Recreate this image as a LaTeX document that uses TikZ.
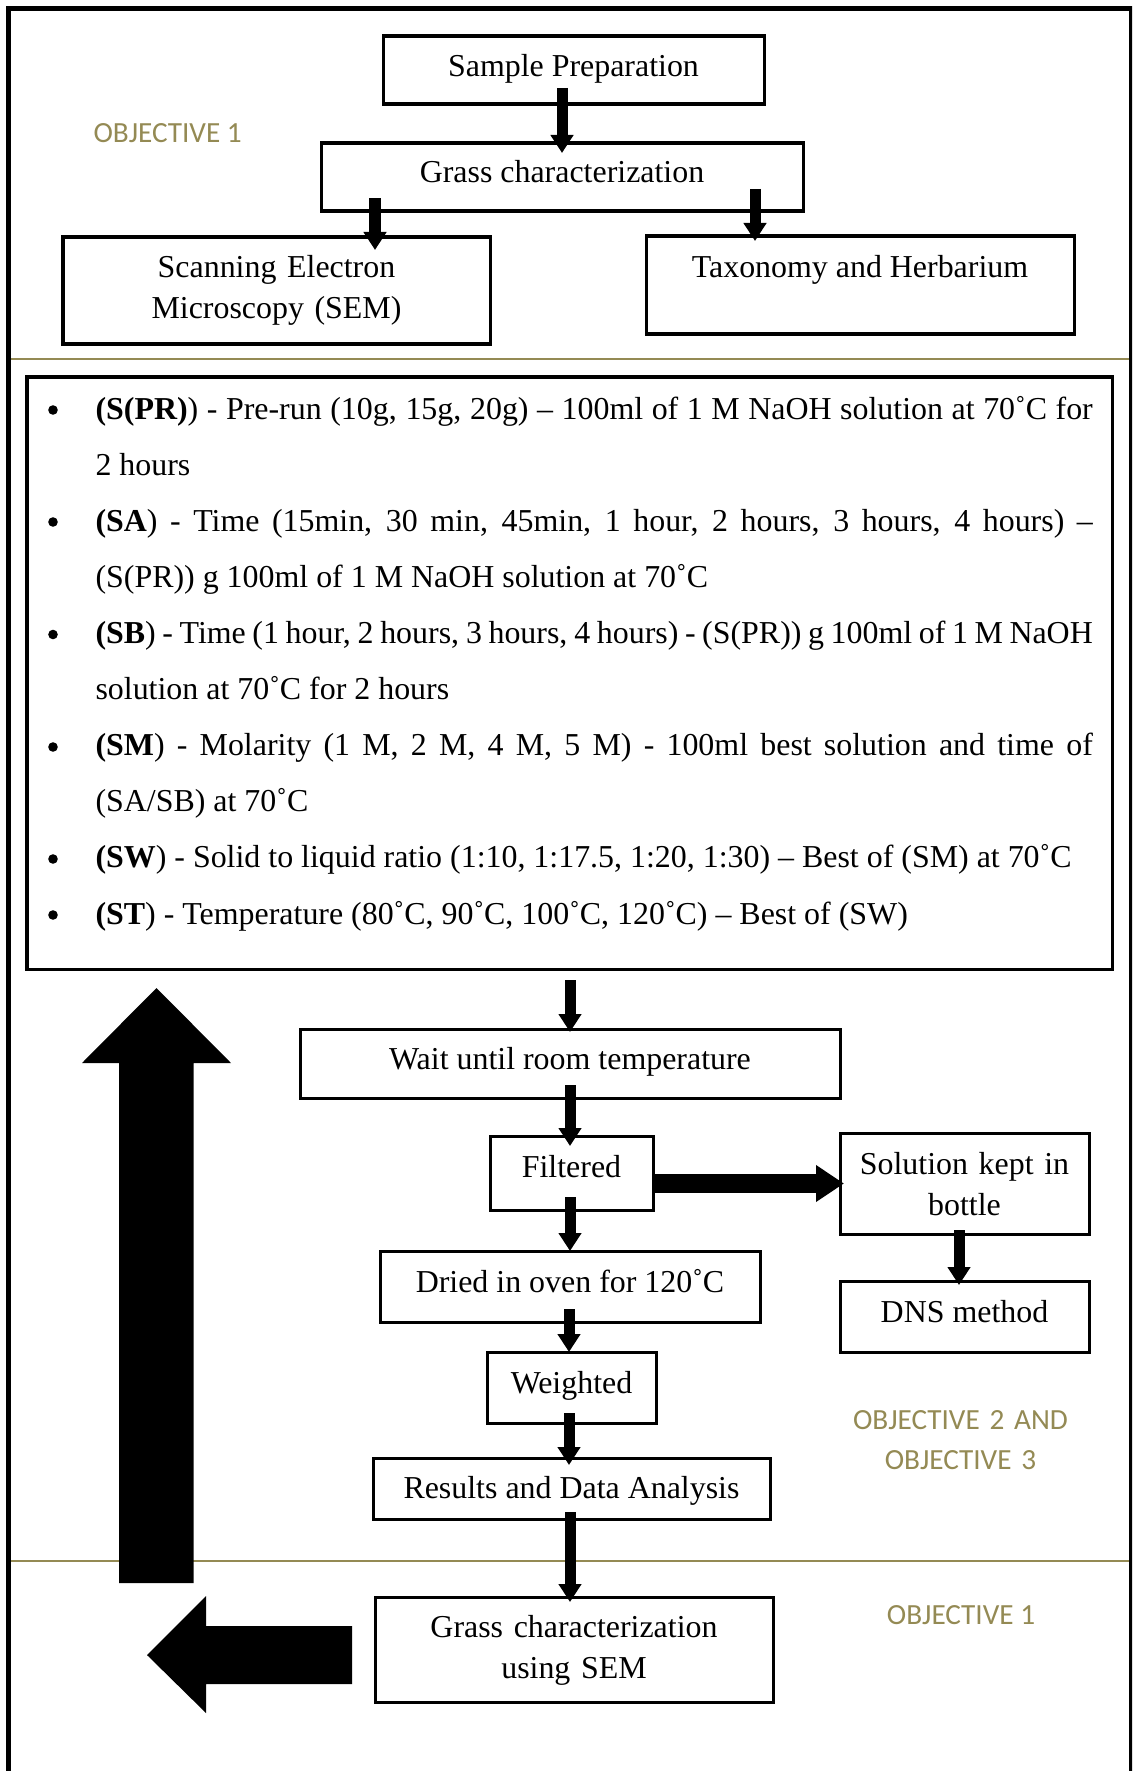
\documentclass[tikz,border=0pt]{standalone}
\usepackage{fontspec}
\setmainfont{Liberation Serif}
\newfontfamily\objfont{Carlito}
\usetikzlibrary{arrows.meta,calc,fit}
\definecolor{objcol}{HTML}{948A54}
\newcommand\tm{\fontsize{12}{15.7}\selectfont}
\newcommand\objf{\objfont\fontsize{11}{15.4}\selectfont}
\newcommand\jline[1]{\hbox to 375pt{#1}}
\newcommand\lastline[1]{\hbox to 375pt{#1\hfil}}
\begin{document}
\begin{tikzpicture}[x=0.376pt,y=-0.376pt,
  box/.style={draw,line width=1.13pt,inner sep=0pt,outer sep=0pt},
  txt/.style={font=\tm,inner sep=0pt,anchor=base},
  txt2/.style={font=\tm,inner sep=0pt,anchor=base,align=center,text width=#1},
  arr/.style={line width=4.14pt,-{Triangle[length=6.77pt,width=8.27pt]}},
  bigarr/.style={line width=7.14pt,-{Triangle[length=10.53pt,width=13.16pt]}},
  obj/.style={font=\objf,text=objcol,inner sep=0pt,anchor=base},
  bulletdot/.style={fill=black}]
\useasboundingbox (0,0) rectangle (1132,1771);
\clip (0,0) rectangle (1132,1771);
% section separators
\draw[objcol,line width=0.8pt] (8,359) -- (1132,359);
\draw[objcol,line width=0.8pt] (8,1561) -- (1132,1561);
% outer frame
\draw[line width=1.88pt] (8.5,1800) -- (8.5,8.5) -- (1131,8.5) -- (1131,1800);

% objective labels
\node[obj,anchor=base west] (obj1) at (93,143) {OBJECTIVE 1};
\node[obj,align=center,text width=110pt] (obj23) at (960.5,1429) {OBJECTIVE 2 AND\\OBJECTIVE 3};
\node[obj] (obj1b) at (961,1624) {OBJECTIVE 1};

% boxes
\node[box,fit={(383,36) (764,104)}] (bsp) {};
\node[box,fit={(321,143) (803,211)}] (bgc) {};
\node[box,fit={(63,237) (490,344)}] (bsem) {};
\node[box,fit={(646,236) (1074,334)}] (btax) {};
\node[box,fit={(27,377) (1112,969)}] (blist) {};
\node[box,fit={(300,1029) (840,1098)}] (bwait) {};
\node[box,fit={(490,1136) (653,1210)}] (bfilt) {};
\node[box,fit={(840,1133) (1089,1234)}] (bsol) {};
\node[box,fit={(380,1251) (760,1322)}] (bdry) {};
\node[box,fit={(840,1281) (1089,1352)}] (bdns) {};
\node[box,fit={(487,1352) (656,1423)}] (bwei) {};
\node[box,fit={(373,1458) (770,1519)}] (bres) {};
\node[box,fit={(375,1597) (773,1702)}] (bgc2) {};

% box texts
\node[txt] (tsp) at (573.5,77) {Sample Preparation};
\node[txt] (tgc) at (562,183) {Grass characterization};
\node[txt2=150pt] (tsem) at (276.5,277) {Scanning Electron\\Microscopy (SEM)};
\node[txt] (ttax) at (860,277) {Taxonomy and Herbarium};
\node[txt] (twait) at (570,1069) {Wait until room temperature};
\node[txt] (tfilt) at (571.5,1177) {Filtered};
\node[txt2=90pt,font=\fontsize{12}{15.5}\selectfont] (tsol) at (964.5,1174) {Solution kept in\\bottle};
\node[txt] (tdry) at (570,1292) {Dried in oven for 120˚C};
\node[txt] (tdns) at (964.5,1322) {DNS method};
\node[txt] (twei) at (571.5,1393) {Weighted};
\node[txt] (tres) at (571.5,1498) {Results and Data Analysis};
\node[txt2=140pt,font=\fontsize{12}{15.5}\selectfont] (tgc2) at (574,1637) {Grass characterization\\using SEM};

% bullet list
\node[font=\tm,inner sep=0pt,anchor=base west] (tlist) at (95,419) {\vtop{\baselineskip=21.1pt
\jline{\textbf{(S(PR)}) - Pre-run (10g, 15g, 20g) – 100ml of 1 M NaOH solution at 70˚C for}
\lastline{2 hours}
\jline{\textbf{(SA}) - Time (15min, 30 min, 45min, 1 hour, 2 hours, 3 hours, 4 hours) –}
\lastline{(S(PR)) g 100ml of 1 M NaOH solution at 70˚C}
\jline{\textbf{(SB}) - Time (1 hour, 2 hours, 3 hours, 4 hours) - (S(PR)) g 100ml of 1 M NaOH}
\lastline{solution at 70˚C for 2 hours}
\jline{\textbf{(SM}) - Molarity (1 M, 2 M, 4 M, 5 M) - 100ml best solution and time of}
\lastline{(SA/SB) at 70˚C}
\lastline{\textbf{(SW}) - Solid to liquid ratio (1:10, 1:17.5, 1:20, 1:30) – Best of (SM) at 70˚C}
\lastline{\textbf{(ST}) - Temperature (80˚C, 90˚C, 100˚C, 120˚C) – Best of (SW)}
}};
% bullets
\foreach \by in {410,522,634.5,747,859,915}
  \fill[bulletdot] (53,\by) circle (4.8);

% connectors
\draw[arr] ($(bsp.south -| bgc.north)+(0,-16)$) -- ($(bgc.north)+(0,10)$);
\draw[arr] ($(bgc.south west)+(54,-13)$) -- ($(bsem.north west)+(312,13)$);
\draw[arr] ($(bgc.south east)+(-48,-22)$) -- ($(btax.north west)+(109,5)$);
\draw[arr] ($(blist.south -| bwait.north)+(0,11)$) -- ($(bwait.north)+(0,3)$);
\draw[arr] ($(bwait.south)+(0,-13)$) -- ($(bfilt.north -| bwait.south)+(0,10)$);
\draw[bigarr] (bfilt.east |- bsol.west) -- ($(bsol.west)+(4,0)$);
\draw[arr] ($(bfilt.south -| bwait.south)+(0,-13)$) -- (bdry.north);
\draw[arr] ($(bsol.south)+(-5.5,-4)$) -- ($(bdns.north)+(-5.5,4)$);
\draw[arr] ($(bdry.south)+(-1,-13)$) -- ($(bwei.north -| bdry.south)+(-1,0)$);
\draw[arr] ($(bwei.south -| bdry.south)+(-1,-10)$) -- ($(bres.north -| bdry.south)+(-1,7)$);
\draw[arr] ($(bres.south -| bwait.south)+(0,-7)$) -- ($(bgc2.north -| bwait.south)+(0,5)$);

% loop-back block arrows
\fill (156.5,988) -- (231,1063) -- (193.5,1063) -- (193.5,1583) -- (119,1583) -- (119,1063) -- (82,1063) -- cycle;
\fill (147,1655) -- (206,1596) -- (206,1626) -- (352,1626) -- (352,1684) -- (206,1684) -- (206,1713) -- cycle;
\end{tikzpicture}
\end{document}
